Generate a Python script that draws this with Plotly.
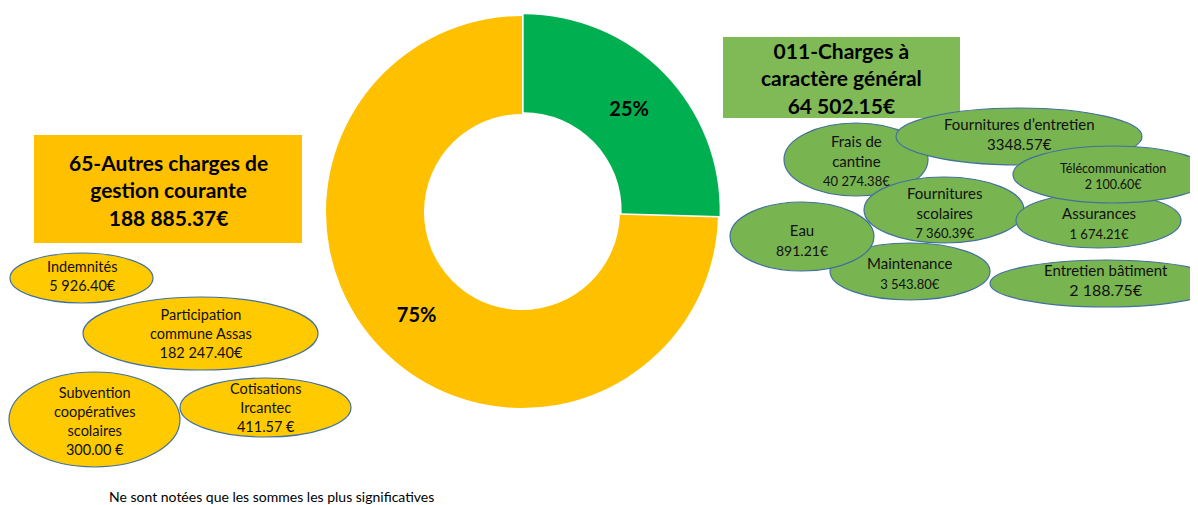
import plotly.graph_objects as go

# ---------------- data ----------------
chapters = ["011-Charges à caractère général", "65-Autres charges de gestion courante"]
chapter_totals = [64502.15, 188885.37]
chapter_total_labels = ["64 502.15€", "188 885.37€"]

left_names = ["Indemnités", "Participation<br>commune Assas", "Subvention<br>coopératives<br>scolaires", "Cotisations<br>Ircantec"]
left_amounts = ["5 926.40€", "182 247.40€", "300.00 €", "411.57 €"]

right_names = ["Frais de<br>cantine", "Fournitures d’entretien", "Fournitures<br>scolaires", "Assurances",
               "Télécommunication", "Maintenance", "Eau", "Entretien bâtiment"]
right_amounts = ["40 274.38€", "3348.57€", "7 360.39€", "1 674.21€",
                 "2 100.60€", "3 543.80€", "891.21€", "2 188.75€"]

footnote = "Ne sont notées que les sommes les plus significatives"

# ---------------- layout / styles ----------------
W, H = 1198, 505
OX, OY = 8, 8          # page body margin
FW, FH = W - OX, H - OY
FONT = "Lato"
GREEN_PIE = "#00B050"
YELLOW_PIE = "#FFC000"
LEFT_BOX = "#FFC000"
RIGHT_BOX = "#7FBA56"
LEFT_ELL = "#FFCA00"
RIGHT_ELL = "#78B450"
OUTLINE = "#41719C"

# ellipse boxes (x0, y0, x1, y1) in page pixels, top-left origin
left_boxes = [(10, 253, 153, 303), (83, 297, 318, 370), (9, 372, 180, 467), (180, 378, 351, 437)]
left_sizes = [(14.5, 14.5), (14.5, 14.5), (14.5, 14.5), (14.5, 14.5)]
right_boxes = [(784, 123, 928, 196), (896, 108, 1142, 165), (864, 177, 1024, 243), (1016, 193, 1181, 248),
               (1013, 146, 1212, 203), (830, 243, 990, 300), (730, 202, 874, 271), (990, 260, 1222, 307)]
right_sizes = [(15, 13), (15, 15), (15, 13), (15, 13),
               (12.5, 12.5), (15, 13), (15, 14), (15, 16)]
right_text_dy = [1, -3, 3, 2, 2, 1, 3, -4]
left_text_dy = [-2, 0, 1, 0]


def px(x):
    return (x - OX) / FW


def py(y):
    return 1 - (y - OY) / FH


fig = go.Figure()

# donut
R = 196
pull = 0.012
cx, cy = 522, 212
half = R * (1 + pull)
fig.add_trace(go.Pie(
    labels=chapters,
    values=chapter_totals,
    hole=0.5,
    sort=False,
    direction="clockwise",
    rotation=0,
    pull=[pull, 0],
    marker=dict(colors=[GREEN_PIE, YELLOW_PIE], line=dict(width=0)),
    texttemplate="<b>%{percent:.0%}</b>",
    textposition="inside",
    insidetextorientation="horizontal",
    textfont=dict(family=FONT, size=20, color="black"),
    hoverinfo="label+value+percent",
    showlegend=False,
    domain=dict(x=[px(cx - half), px(cx + half)], y=[py(cy + half), py(cy - half)]),
))

shapes = []
annotations = []

# chapter boxes
boxes = [(723, 37, 960, 118, RIGHT_BOX), (34, 135, 302, 243, LEFT_BOX)]
box_titles = ["011-Charges à<br>caractère général", "65-Autres charges de<br>gestion courante"]
for (x0, y0, x1, y1, col), title, tot in zip(boxes, box_titles, chapter_total_labels):
    shapes.append(dict(type="rect", xref="paper", yref="paper", x0=px(x0), x1=px(x1), y0=py(y1), y1=py(y0),
                       fillcolor=col, line=dict(width=0), layer="above"))
    annotations.append(dict(xref="paper", yref="paper", x=px((x0 + x1) / 2), y=py((y0 + y1) / 2 + 1),
                            text=f"<b>{title}<br>{tot}</b>", showarrow=False, xanchor="center", yanchor="middle",
                            font=dict(family=FONT, size=21, color="black"), align="center"))


def add_ellipses(boxes_, names, amounts, sizes, dys, fill):
    for (x0, y0, x1, y1), name, amt, (s1, s2), dy in zip(boxes_, names, amounts, sizes, dys):
        shapes.append(dict(type="circle", xref="paper", yref="paper", x0=px(x0), x1=px(x1), y0=py(y1), y1=py(y0),
                           fillcolor=fill, line=dict(color=OUTLINE, width=1.2), layer="above"))
        txt = f"{name}<br><span style='font-size:{s2}px'>{amt}</span>"
        annotations.append(dict(xref="paper", yref="paper", x=px((x0 + x1) / 2), y=py((y0 + y1) / 2 + dy),
                                text=txt, showarrow=False, xanchor="center", yanchor="middle",
                                font=dict(family=FONT, size=s1, color="#111111"), align="center"))


add_ellipses(left_boxes, left_names, left_amounts, left_sizes, left_text_dy, LEFT_ELL)
add_ellipses(right_boxes, right_names, right_amounts, right_sizes, right_text_dy, RIGHT_ELL)

annotations.append(dict(xref="paper", yref="paper", x=px(107), y=py(496), text=footnote, showarrow=False,
                        xanchor="left", yanchor="middle", font=dict(family=FONT, size=14, color="black")))

fig.update_layout(
    width=FW, height=FH,
    margin=dict(l=0, r=0, t=0, b=0),
    paper_bgcolor="white", plot_bgcolor="white",
    shapes=shapes, annotations=annotations,
    showlegend=False,
)

fig.write_html("out.html")
